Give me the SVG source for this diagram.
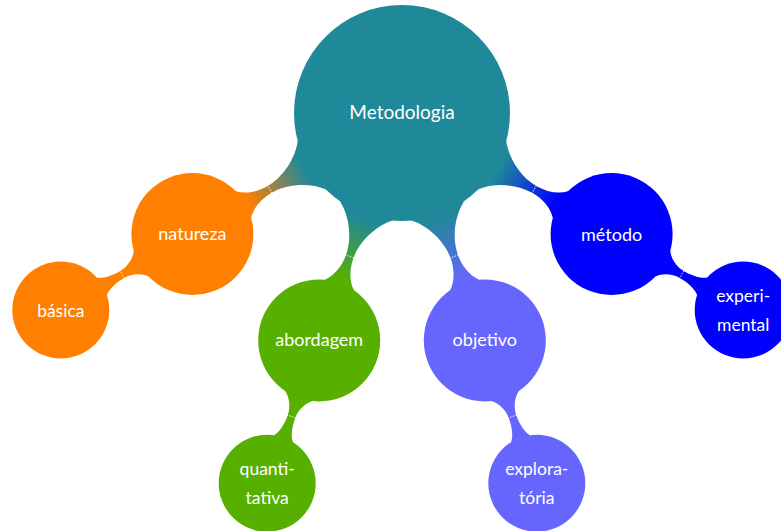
<svg xmlns="http://www.w3.org/2000/svg" width="781" height="531" viewBox="0 0 781 531">
<style>
  text { font-family: Lato, "Open Sans", "DejaVu Sans", sans-serif; fill: #ffffff; text-anchor: middle; }
  .root { font-size: 19px; }
  .l1 { font-size: 18px; }
  .l2 { font-size: 17.5px; }
  .seam { stroke: #ffffff; stroke-width: 0.9; stroke-dasharray: 1.6 1.2; opacity: 0.85; fill: none; }
</style>
<defs>
  <path id="bar1" d="M104.3,-27.95 C115,-14 135,-4 152.7,-4 C165,-4 176,-8 182.9,-15.3 L190,0 L182.9,15.3 C176,8 165,4 152.7,4 C135,4 115,14 104.3,27.95 L100,0 Z"/>
  <path id="bar2" d="M59.2,-14.76 C64,-8 73,-4 81,-4 C90,-4 99,-5.5 104.56,-10.08 L110,0 L104.56,10.08 C99,5.5 90,4 81,4 C73,4 64,8 59.2,14.76 L55,0 Z"/>
  <linearGradient id="g-nat" gradientUnits="userSpaceOnUse" x1="112" y1="0" x2="178" y2="0">
    <stop offset="0" stop-color="#1F8899"/><stop offset="1" stop-color="#FF8000"/>
  </linearGradient>
  <linearGradient id="g-abo" gradientUnits="userSpaceOnUse" x1="112" y1="0" x2="178" y2="0">
    <stop offset="0" stop-color="#1F8899"/><stop offset="1" stop-color="#57B000"/>
  </linearGradient>
  <linearGradient id="g-obj" gradientUnits="userSpaceOnUse" x1="112" y1="0" x2="178" y2="0">
    <stop offset="0" stop-color="#1F8899"/><stop offset="1" stop-color="#6666FF"/>
  </linearGradient>
  <linearGradient id="g-met" gradientUnits="userSpaceOnUse" x1="112" y1="0" x2="178" y2="0">
    <stop offset="0" stop-color="#1F8899"/><stop offset="1" stop-color="#0000FF"/>
  </linearGradient>
</defs>

<g id="connectors">
  <use href="#bar1" transform="translate(402,113) rotate(150)" fill="url(#g-nat)"/>
  <use href="#bar1" transform="translate(402,113) rotate(110)" fill="url(#g-abo)"/>
  <use href="#bar1" transform="translate(402,113) rotate(70)" fill="url(#g-obj)"/>
  <use href="#bar1" transform="translate(402,113) rotate(30)" fill="url(#g-met)"/>
  <use href="#bar2" transform="translate(192.4,234) rotate(150)" fill="#FF8000"/>
  <use href="#bar2" transform="translate(319.2,340.4) rotate(110)" fill="#57B000"/>
  <use href="#bar2" transform="translate(484.8,340.4) rotate(70)" fill="#6666FF"/>
  <use href="#bar2" transform="translate(611.6,234) rotate(30)" fill="#0000FF"/>
  <line class="seam" x1="152.7" y1="-4.6" x2="152.7" y2="4.6" transform="translate(402,113) rotate(150)"/>
  <line class="seam" x1="152.7" y1="-4.6" x2="152.7" y2="4.6" transform="translate(402,113) rotate(110)"/>
  <line class="seam" x1="152.7" y1="-4.6" x2="152.7" y2="4.6" transform="translate(402,113) rotate(70)"/>
  <line class="seam" x1="152.7" y1="-4.6" x2="152.7" y2="4.6" transform="translate(402,113) rotate(30)"/>
  <line class="seam" x1="81" y1="-4.6" x2="81" y2="4.6" transform="translate(192.4,234) rotate(150)"/>
  <line class="seam" x1="81" y1="-4.6" x2="81" y2="4.6" transform="translate(319.2,340.4) rotate(110)"/>
  <line class="seam" x1="81" y1="-4.6" x2="81" y2="4.6" transform="translate(484.8,340.4) rotate(70)"/>
  <line class="seam" x1="81" y1="-4.6" x2="81" y2="4.6" transform="translate(611.6,234) rotate(30)"/>
</g>

<g id="node-metodologia">
  <circle cx="402" cy="113" r="108" fill="#1F8899"/>
  <text class="root" x="402" y="119">Metodologia</text>
</g>
<g id="node-natureza">
  <circle cx="192.4" cy="234" r="61" fill="#FF8000"/>
  <text class="l1" x="192.4" y="240">natureza</text>
</g>
<g id="node-basica">
  <circle cx="60.8" cy="310" r="48.5" fill="#FF8000"/>
  <text class="l2" x="60.8" y="317">básica</text>
</g>
<g id="node-abordagem">
  <circle cx="319.2" cy="340.4" r="61" fill="#57B000"/>
  <text class="l1" x="319.2" y="346">abordagem</text>
</g>
<g id="node-quantitativa">
  <circle cx="267.2" cy="483.2" r="48.5" fill="#57B000"/>
  <text class="l2" x="267.2" y="475">quanti-</text>
  <text class="l2" x="267.2" y="504">tativa</text>
</g>
<g id="node-objetivo">
  <circle cx="484.8" cy="340.4" r="61" fill="#6666FF"/>
  <text class="l1" x="484.8" y="346">objetivo</text>
</g>
<g id="node-exploratoria">
  <circle cx="536.8" cy="483.2" r="48.5" fill="#6666FF"/>
  <text class="l2" x="536.8" y="475">explora-</text>
  <text class="l2" x="536.8" y="504">tória</text>
</g>
<g id="node-metodo">
  <circle cx="611.6" cy="234" r="61" fill="#0000FF"/>
  <text class="l1" x="611.6" y="241">método</text>
</g>
<g id="node-experimental">
  <circle cx="743.2" cy="310" r="48.5" fill="#0000FF"/>
  <text class="l2" x="743.2" y="302">experi-</text>
  <text class="l2" x="743.2" y="331">mental</text>
</g>
</svg>
